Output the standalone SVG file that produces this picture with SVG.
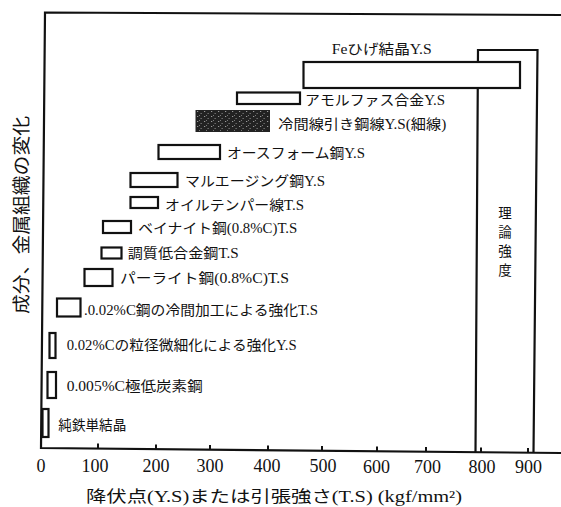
<svg xmlns="http://www.w3.org/2000/svg" width="561" height="507" viewBox="0 0 561 507">
<defs>
<style>
.bar{fill:#fff;stroke:#111;stroke-width:2.2}
.lbl{font-family:"Liberation Serif","Noto Sans CJK JP",serif;font-size:14px;fill:#111;dominant-baseline:central}
.num{font-family:"Liberation Serif",serif;font-size:18px;fill:#111;text-anchor:middle;dominant-baseline:central}
.ax{fill:none;stroke:#111;stroke-width:2.2}
.tk{stroke:#111;stroke-width:2}
.vt{font-family:"Noto Sans CJK JP",sans-serif;font-size:13.5px;fill:#111;text-anchor:middle;dominant-baseline:central}
</style>
<pattern id="speck" width="7" height="5" patternUnits="userSpaceOnUse">
<rect width="7" height="5" fill="#222"/>
<rect x="1" y="1" width="1.2" height="1" fill="#999"/>
<rect x="4.5" y="3" width="1.3" height="1" fill="#777"/>
<rect x="3" y="0" width="0.8" height="0.8" fill="#aaa"/>
</pattern>
</defs>
<rect width="561" height="507" fill="#fff"/>

<g id="axes">
<path class="ax" d="M561,15 L45,12.5 L41,448 L561,453"/>
<path class="ax" d="M475.5,452 L478,50 L537.5,50 L533.5,453"/>
<line class="tk" x1="98" y1="448.5" x2="98" y2="443.5"/>
<line class="tk" x1="156" y1="449" x2="156" y2="444.5"/>
<line class="tk" x1="210" y1="449.5" x2="210" y2="445"/>
<line class="tk" x1="268" y1="450" x2="268" y2="445.5"/>
<line class="tk" x1="322" y1="450.5" x2="322" y2="446"/>
<line class="tk" x1="377" y1="451" x2="377" y2="446.5"/>
<line class="tk" x1="426" y1="451.5" x2="426" y2="447"/>
<line class="tk" x1="481" y1="452" x2="481" y2="447.5"/>
<line class="tk" x1="528" y1="452.5" x2="528" y2="448"/>
<text class="num" x="41" y="466">0</text>
<text class="num" x="95" y="466">100</text>
<text class="num" x="156" y="466">200</text>
<text class="num" x="210" y="466">300</text>
<text class="num" x="267" y="466">400</text>
<text class="num" x="323" y="466">500</text>
<text class="num" x="376.5" y="466.5">600</text>
<text class="num" x="427.5" y="466.5">700</text>
<text class="num" x="482" y="467">800</text>
<text class="num" x="528.5" y="467">900</text>
<text class="lbl" x="86" y="496" style="font-size:16px" textLength="376" lengthAdjust="spacingAndGlyphs">降伏点(Y.S)または引張強さ(T.S) (kgf/mm²)</text>
<text class="lbl" transform="translate(22,215) rotate(-90)" style="font-size:18px;text-anchor:middle" textLength="198" lengthAdjust="spacingAndGlyphs">成分、金属組織の変化</text>
</g>

<g id="theory">
<text class="vt" x="505" y="212">理</text>
<text class="vt" x="505" y="231">論</text>
<text class="vt" x="505" y="250">強</text>
<text class="vt" x="505" y="269">度</text>
</g>

<g id="n1">
<rect class="bar" x="303.5" y="62" width="216.5" height="26"/>
<text class="lbl" x="331.7" y="49.5" textLength="100" lengthAdjust="spacingAndGlyphs">Feひげ結晶Y.S</text>
</g>
<g id="n2">
<rect class="bar" x="237" y="92.5" width="63" height="11.5"/>
<text class="lbl" x="305" y="100" textLength="140" lengthAdjust="spacingAndGlyphs">アモルファス合金Y.S</text>
</g>
<g id="n3">
<rect x="196" y="110.5" width="73.5" height="21" fill="url(#speck)" stroke="#222" stroke-width="1"/>
<text class="lbl" x="278.3" y="124" textLength="168" lengthAdjust="spacingAndGlyphs">冷間線引き鋼線Y.S(細線)</text>
</g>
<g id="n4">
<rect class="bar" x="158.5" y="145" width="61.5" height="14"/>
<text class="lbl" x="227" y="153.5" textLength="138" lengthAdjust="spacingAndGlyphs">オースフォーム鋼Y.S</text>
</g>
<g id="n5">
<rect class="bar" x="130.5" y="173" width="47" height="14"/>
<text class="lbl" x="185" y="181.5" textLength="140" lengthAdjust="spacingAndGlyphs">マルエージング鋼Y.S</text>
</g>
<g id="n6">
<rect class="bar" x="130.5" y="197" width="27.5" height="11"/>
<text class="lbl" x="165" y="205" textLength="139" lengthAdjust="spacingAndGlyphs">オイルテンパー線T.S</text>
</g>
<g id="n7">
<rect class="bar" x="103" y="221" width="28" height="12"/>
<text class="lbl" x="138.3" y="228.3" textLength="159" lengthAdjust="spacingAndGlyphs">ベイナイト鋼(0.8%C)T.S</text>
</g>
<g id="n8">
<rect class="bar" x="101.5" y="247.5" width="20" height="11"/>
<text class="lbl" x="127.7" y="253.3" textLength="111" lengthAdjust="spacingAndGlyphs">調質低合金鋼T.S</text>
</g>
<g id="n9">
<rect class="bar" x="84.5" y="269" width="28" height="17"/>
<text class="lbl" x="120" y="278.3" textLength="169" lengthAdjust="spacingAndGlyphs">パーライト鋼(0.8%C)T.S</text>
</g>
<g id="n10">
<rect class="bar" x="57" y="298.5" width="23.5" height="18"/>
<text class="lbl" x="84" y="310" textLength="234" lengthAdjust="spacingAndGlyphs">.0.02%C鋼の冷間加工による強化T.S</text>
</g>
<g id="n11">
<rect class="bar" x="49.5" y="333" width="6" height="25"/>
<text class="lbl" x="66.7" y="345" textLength="230" lengthAdjust="spacingAndGlyphs">0.02%Cの粒径微細化による強化Y.S</text>
</g>
<g id="n12">
<rect class="bar" x="47.5" y="372" width="8.5" height="26"/>
<text class="lbl" x="66.7" y="386.5" textLength="136" lengthAdjust="spacingAndGlyphs">0.005%C極低炭素鋼</text>
</g>
<g id="n13">
<rect class="bar" x="42.5" y="409" width="6" height="28"/>
<text class="lbl" x="58.3" y="425" textLength="68" lengthAdjust="spacingAndGlyphs">純鉄単結晶</text>
</g>
</svg>
